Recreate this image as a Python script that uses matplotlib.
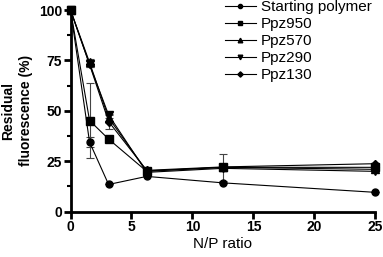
import matplotlib
matplotlib.use("Agg")
import matplotlib.pyplot as plt
from matplotlib.ticker import MultipleLocator
from matplotlib.lines import Line2D

np_ratio = [0, 1.5625, 3.125, 6.25, 12.5, 25]
series_names = ["Starting polymer", "Ppz950", "Ppz570", "Ppz290", "Ppz130"]
starting = [100, 34.5, 13.5, 17.5, 14.3, 9.6]
ppz950 = [100, 45.2, 36.0, 20.0, 22.0, 22.0]
ppz570 = [100, 74.0, 46.5, 20.2, 22.0, 21.0]
ppz290 = [100, 73.0, 48.0, 19.5, 21.5, 20.0]
ppz130 = [100, 73.0, 44.7, 20.5, 22.2, 23.8]
err_starting = [0, 2.3, 0, 0, 0, 0]
err_ppz950 = [0, 18.5, 0, 0, 6.7, 0]
err_ppz570 = [0, 1.5, 1.5, 0, 0, 0]
err_ppz290 = [0, 1.5, 1.5, 0, 0, 0]
err_ppz130 = [0, 1.5, 3.5, 0, 0, 0]
markers = ["o", "s", "^", "v", "D"]
msizes = [5, 5.5, 5.5, 5.5, 4.5]

plt.rcParams['font.family'] = ['Liberation Sans', 'DejaVu Sans']

fig = plt.figure(figsize=(3.83, 2.57), dpi=100)
ax = fig.add_axes([70.5/383, 1-211.7/257, (375.3-70.5)/383, (211.7-10)/257])

data = [starting, ppz950, ppz570, ppz290, ppz130]
errs = [err_starting, err_ppz950, err_ppz570, err_ppz290, err_ppz130]
handles = []
for name, y, e, m, ms in zip(series_names, data, errs, markers, msizes):
    ax.errorbar(np_ratio, y, yerr=e, color='black', marker=m, markersize=ms,
                linewidth=0.8, elinewidth=0.8, ecolor='#444444', capsize=3,
                capthick=0.8, clip_on=False, zorder=3)
    handles.append(Line2D([], [], color='black', marker=m, markersize=ms * 0.6,
                          linewidth=0.8, label=name))

ax.set_xlim(0, 25)
ax.set_ylim(0, 100)
ax.xaxis.set_major_locator(MultipleLocator(5))
ax.yaxis.set_major_locator(MultipleLocator(25))
ax.yaxis.set_minor_locator(MultipleLocator(12.5))
for s in ['top', 'right']:
    ax.spines[s].set_visible(False)
for s in ['left', 'bottom']:
    ax.spines[s].set_linewidth(2)
ax.tick_params(which='major', direction='out', length=5, width=2, labelsize=10, pad=1)
ax.tick_params(which='minor', direction='out', length=3, width=1.5)
for lab in ax.get_xticklabels() + ax.get_yticklabels():
    lab.set_fontweight('bold')

ax.set_xlabel("N/P ratio", fontsize=11, labelpad=2)
ax.set_ylabel("Residual\nfluorescence (%)", fontsize=10, fontweight='bold',
              linespacing=1.4, labelpad=4)

leg = fig.legend(handles=handles, loc='upper left', bbox_to_anchor=(225/383, 1.0),
                 frameon=False, fontsize=11, handlelength=2.0, handletextpad=0.35,
                 labelspacing=0.2, borderpad=0, borderaxespad=0)
fig.savefig("out.png", dpi=100)
